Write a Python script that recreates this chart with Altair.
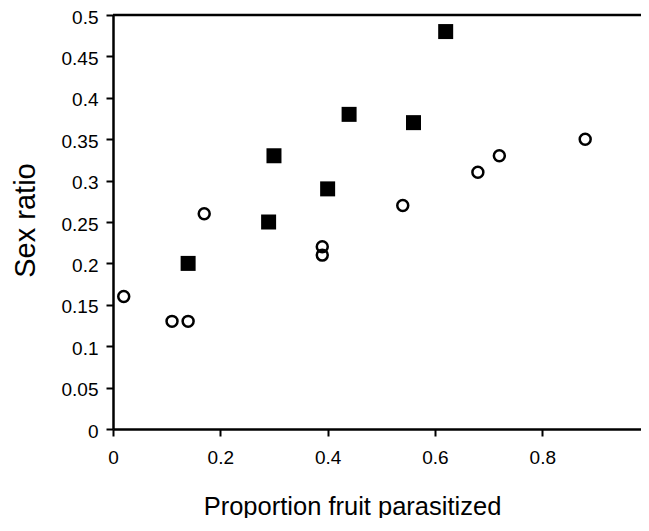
import altair as alt
import pandas as pd

# Filled squares series
sq_x = [0.14, 0.29, 0.30, 0.40, 0.44, 0.56, 0.62]
sq_y = [0.20, 0.25, 0.33, 0.29, 0.38, 0.37, 0.48]

# Open circles series
ci_x = [0.02, 0.11, 0.14, 0.17, 0.39, 0.39, 0.54, 0.68, 0.72, 0.88]
ci_y = [0.16, 0.13, 0.13, 0.26, 0.22, 0.21, 0.27, 0.31, 0.33, 0.35]

x_ticks = [0, 0.2, 0.4, 0.6, 0.8, 1]
y_ticks = [0, 0.05, 0.1, 0.15, 0.2, 0.25, 0.3, 0.35, 0.4, 0.45, 0.5]

sq = pd.DataFrame({"x": sq_x, "y": sq_y})
ci = pd.DataFrame({"x": ci_x, "y": ci_y})

FONT = "Liberation Sans"

# the reference is cropped just before x = 1 at its right edge
xscale = alt.Scale(domain=[0, 0.984], nice=False, zero=False)
yscale = alt.Scale(domain=[0, 0.5], nice=False, zero=False)

xaxis = alt.Axis(
    values=x_ticks, format="~g", title="Proportion fruit parasitized",
    grid=False, domainColor="black", domainWidth=2.5, tickColor="black",
    tickWidth=2, tickSize=7, labelFont=FONT, labelFontSize=19, labelColor="black",
    labelPadding=12, labelFlush=False,
    titleFont=FONT, titleFontSize=25.5, titleFontWeight="normal", titleColor="black",
    titleX=239, titleY=85, titleAlign="center", titleBaseline="alphabetic",
)
yaxis = alt.Axis(
    values=y_ticks, format="~g", title="Sex ratio",
    grid=False, domainColor="black", domainWidth=2.5, tickColor="black",
    tickWidth=2, tickSize=7, labelFont=FONT, labelFontSize=19, labelColor="black",
    labelPadding=8, labelFlush=False, labelOffset=2,
    titleFont=FONT, titleFontSize=29, titleFontWeight="normal", titleColor="black",
    titleX=-79, titleY=205, titleAlign="center", titleBaseline="alphabetic", titleAngle=270,
)

top_line = alt.Chart(pd.DataFrame({"y": [0.5]})).mark_rule(
    color="black", strokeWidth=2.5
).encode(y=alt.Y("y:Q", scale=yscale, axis=yaxis))

squares = alt.Chart(sq).mark_point(
    shape="square", filled=True, color="black", size=225, opacity=1
).encode(
    x=alt.X("x:Q", scale=xscale, axis=xaxis),
    y=alt.Y("y:Q", scale=yscale, axis=yaxis),
)

circles = alt.Chart(ci).mark_point(
    shape="circle", filled=False, color="black", size=120, strokeWidth=2.5, opacity=1
).encode(
    x=alt.X("x:Q", scale=xscale, axis=xaxis),
    y=alt.Y("y:Q", scale=yscale, axis=yaxis),
)

chart = alt.layer(top_line, squares, circles).properties(
    width=528,
    height=414,
    autosize=alt.AutoSizeParams(type="none"),
    padding={"left": 105, "top": 7, "right": 0, "bottom": 89},
    background="white",
).configure_view(stroke=None)

chart.save("out.html", embed_options={"renderer": "svg", "actions": False})
